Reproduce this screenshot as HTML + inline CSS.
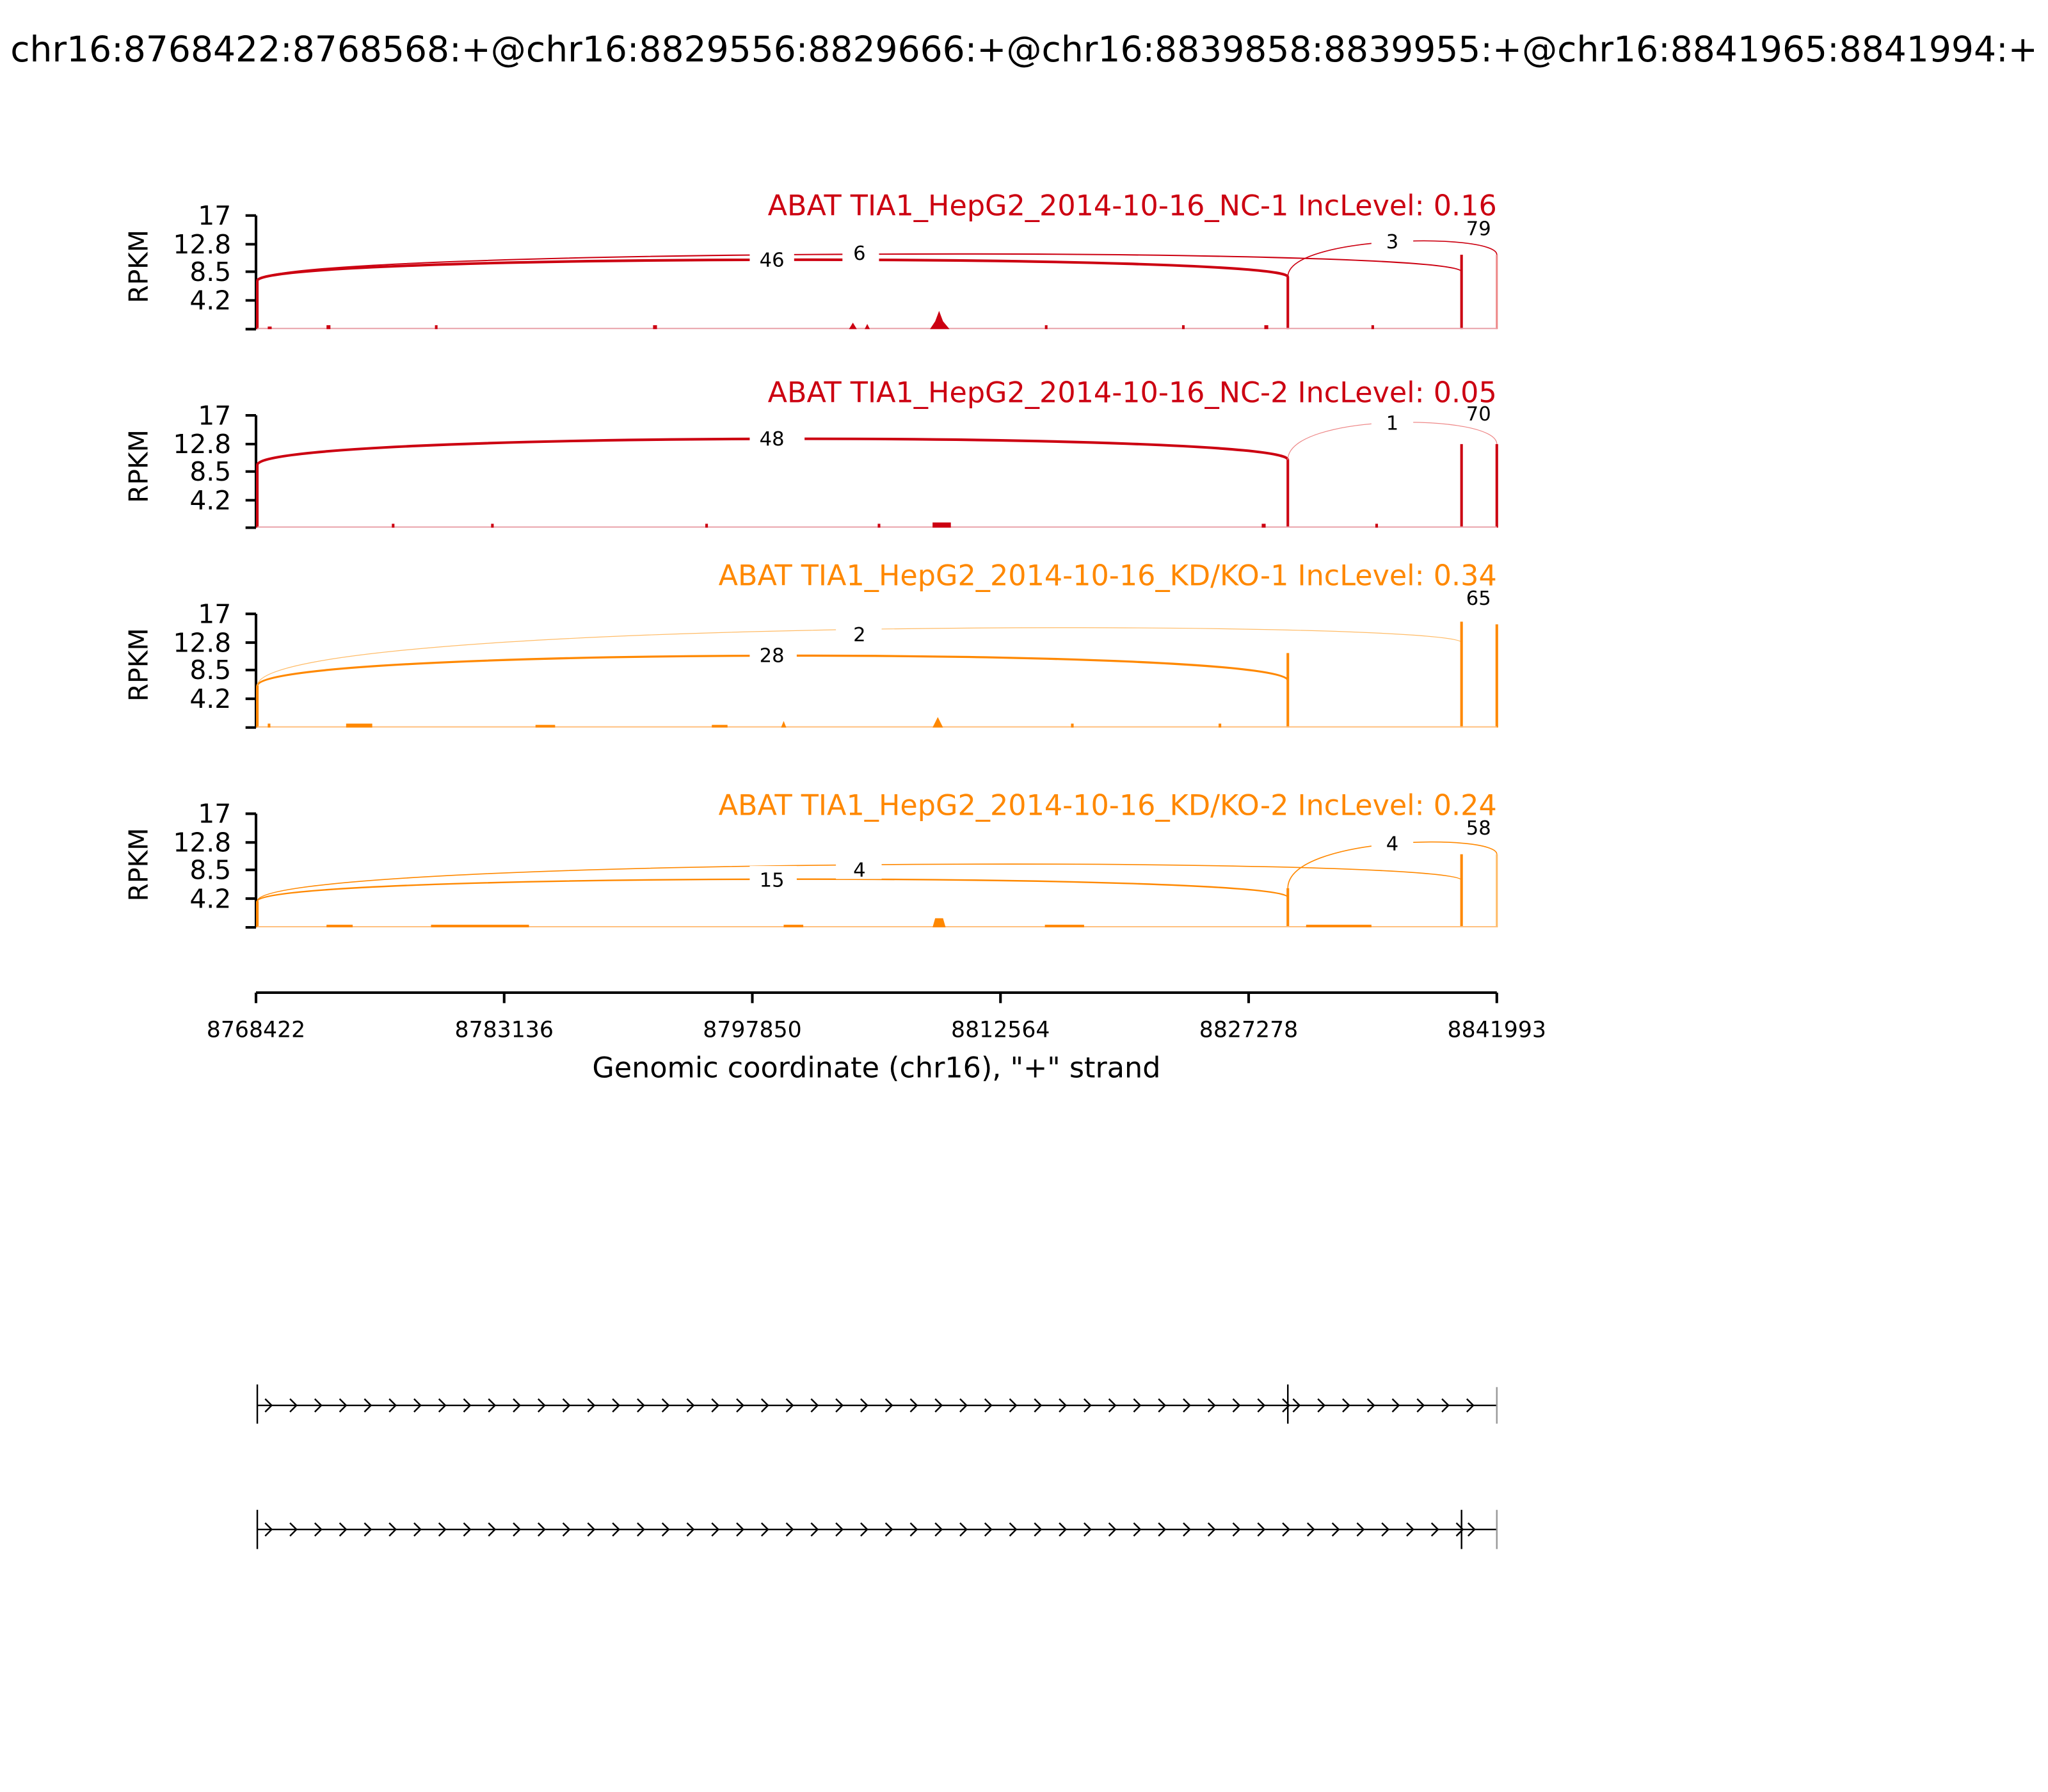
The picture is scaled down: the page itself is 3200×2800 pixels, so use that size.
<!DOCTYPE html>
<html><head><style>html,body{margin:0;padding:0;background:#fff}svg{display:block}</style></head>
<body>
<svg width="3200" height="2800" viewBox="0 0 1568 1372" xmlns="http://www.w3.org/2000/svg" font-family="DejaVu Sans, Liberation Sans, sans-serif">
<rect width="1568" height="1372" fill="#fff"/>
<text x="784" y="47" font-size="27" text-anchor="middle">chr16:8768422:8768568:+@chr16:8829556:8829666:+@chr16:8839858:8839955:+@chr16:8841965:8841994:+</text>

<g font-size="20" text-anchor="end">
<g stroke="#000" stroke-width="2" fill="none">
<path d="M196,165V252M188,165H196M188,187H196M188,208H196M188,230H196M188,252H196"/>
<path d="M196,318V404M188,318H196M188,340H196M188,361H196M188,383H196M188,404H196"/>
<path d="M196,470V557M188,470H196M188,492H196M188,513H196M188,535H196M188,557H196"/>
<path d="M196,623V710M188,623H196M188,645H196M188,666H196M188,688H196M188,710H196"/>
</g>
<text x="177" y="172">17</text><text x="177" y="194">12.8</text><text x="177" y="215">8.5</text><text x="177" y="237">4.2</text>
<text x="177" y="325">17</text><text x="177" y="347">12.8</text><text x="177" y="368">8.5</text><text x="177" y="390">4.2</text>
<text x="177" y="477">17</text><text x="177" y="499">12.8</text><text x="177" y="520">8.5</text><text x="177" y="542">4.2</text>
<text x="177" y="630">17</text><text x="177" y="652">12.8</text><text x="177" y="673">8.5</text><text x="177" y="695">4.2</text>
</g>
<g font-size="20" text-anchor="middle">
<text transform="translate(113,204) rotate(-90)">RPKM</text>
<text transform="translate(113,357) rotate(-90)">RPKM</text>
<text transform="translate(113,509) rotate(-90)">RPKM</text>
<text transform="translate(113,662) rotate(-90)">RPKM</text>
</g>

<g font-size="21.8" text-anchor="end">
<text x="1146" y="165" fill="#cc0011">ABAT TIA1_HepG2_2014-10-16_NC-1 IncLevel: 0.16</text>
<text x="1146" y="308" fill="#cc0011">ABAT TIA1_HepG2_2014-10-16_NC-2 IncLevel: 0.05</text>
<text x="1146" y="448" fill="#ff8800">ABAT TIA1_HepG2_2014-10-16_KD/KO-1 IncLevel: 0.34</text>
<text x="1146" y="624" fill="#ff8800">ABAT TIA1_HepG2_2014-10-16_KD/KO-2 IncLevel: 0.24</text>
</g>

<!-- Panel 1 -->
<g stroke="#cc0011" fill="none">
<path d="M197,215 C197,194 986,194 986,212" stroke-width="2"/>
<path d="M197,215 C197,190 1119,188 1119,208" stroke-width="1"/>
<path d="M986,212 C986,180 1146,178 1146,195" stroke-width="0.8"/>
<path d="M197,252V215M986,252V212M1119,252V195" stroke-width="2"/>
<path d="M1146,252V195" stroke-width="1.5" stroke="#e88"/>
<path d="M197,251.5H1146" stroke-width="1" stroke="#e8a0a8"/>
</g>
<path d="M712,252 L716,246 L719,238 L722,246 L727,252Z M205,252h3v-2h-3z M250,252h3v-3h-3z M333,252h2v-3h-2z M500,252h3v-3h-3z M650,252l3,-5l3,5z M662,252l2,-4l2,4z M800,252h2v-3h-2z M905,252h2v-3h-2z M968,252h3v-3h-3z M1050,252h2v-3h-2z" fill="#cc0011"/>
<!-- Panel 2 -->
<g stroke="#cc0011" fill="none">
<path d="M197,356 C197,330 986,330 986,352" stroke-width="2"/>
<path d="M986,352 C986,316 1146,316 1146,340" stroke-width="0.6" stroke="#e88"/>
<path d="M197,404V356M986,404V352M1119,404V340" stroke-width="2"/>
<path d="M1146,404V340" stroke-width="2"/>
<path d="M197,403.5H1146" stroke-width="1" stroke="#e8a0a8"/>
</g>
<path d="M714,404h14v-4h-14z M540,404h2v-3h-2z M300,404h2v-3h-2z M376,404h2v-3h-2z M966,404h3v-3h-3z M1053,404h2v-3h-2z M672,404h2v-3h-2z" fill="#cc0011"/>
<!-- Panel 3 -->
<g stroke="#ff8800" fill="none">
<path d="M197,525 C197,495 986,495 986,521" stroke-width="1.6"/>
<path d="M197,525 C197,472 1119,474 1119,492" stroke-width="0.6" stroke="#ffbb66"/>
<path d="M197,557V525M986,557V500M1119,557V476" stroke-width="2"/>
<path d="M1146,557V478" stroke-width="2"/>
<path d="M197,556.5H1146" stroke-width="1" stroke="#ffc080"/>
</g>
<path d="M714,557l4,-8l4,8z M598,557l2,-5l2,5z M205,557h2v-3h-2z M265,557h20v-3h-20z M410,557h15v-2h-15z M545,557h12v-2h-12z M820,557h2v-3h-2z M933,557h2v-3h-2z" fill="#ff8800"/>
<!-- Panel 4 -->
<g stroke="#ff8800" fill="none">
<path d="M197,690 C197,668 986,668 986,687" stroke-width="1.2"/>
<path d="M197,690 C197,656 1119,655 1119,674" stroke-width="0.8"/>
<path d="M986,680 C986,640 1146,638 1146,654" stroke-width="0.8"/>
<path d="M197,710V690M986,710V680M1119,710V654" stroke-width="2"/>
<path d="M1146,710V654" stroke-width="1.5" stroke="#ffbb66"/>
<path d="M197,709.5H1146" stroke-width="1" stroke="#ffc080"/>
</g>
<path d="M714,710l2,-7l6,0l2,7z M330,710h75v-2h-75z M250,710h20v-2h-20z M1000,710h50v-2h-50z M600,710h15v-2h-15z M800,710h30v-2h-30z" fill="#ff8800"/>

<g font-size="15" text-anchor="middle">
<rect x="574" y="188" width="34" height="18" fill="#fff"/><text x="591" y="204">46</text>
<rect x="645" y="183" width="28" height="18" fill="#fff"/><text x="658" y="199">6</text>
<rect x="1050" y="173" width="32" height="18" fill="#fff"/><text x="1066" y="190">3</text>
<text x="1132" y="180">79</text>
<rect x="574" y="325" width="42" height="18" fill="#fff"/><text x="591" y="341">48</text>
<rect x="1050" y="313" width="32" height="18" fill="#fff"/><text x="1066" y="329">1</text>
<text x="1132" y="322">70</text>
<rect x="574" y="490" width="36" height="18" fill="#fff"/><text x="591" y="507">28</text>
<rect x="640" y="474" width="35" height="18" fill="#fff"/><text x="658" y="491">2</text>
<text x="1132" y="463">65</text>
<rect x="574" y="663" width="36" height="18" fill="#fff"/><text x="591" y="679">15</text>
<rect x="640" y="655" width="35" height="18" fill="#fff"/><text x="658" y="671">4</text>
<rect x="1050" y="634" width="32" height="18" fill="#fff"/><text x="1066" y="651">4</text>
<text x="1132" y="639">58</text>
</g>

<g stroke="#000" stroke-width="2"><path d="M196,760H1146M196,760v8M386,760v8M576,760v8M766,760v8M956,760v8M1146,760v8"/></g>
<g font-size="17" text-anchor="middle">
<text x="196" y="794">8768422</text><text x="386" y="794">8783136</text><text x="576" y="794">8797850</text>
<text x="766" y="794">8812564</text><text x="956" y="794">8827278</text><text x="1146" y="794">8841993</text>
<text x="671" y="825" font-size="21.8">Genomic coordinate (chr16), "+" strand</text>
</g>

<g stroke="#000" stroke-width="1.2" fill="none">
<path d="M197,1076H1146M197,1060V1090M986,1060V1090"/>
<path d="M1146,1062V1090" stroke="#999"/>
<path d="M197,1171H1146M197,1156V1186M1119,1156V1186"/>
<path d="M1146,1156V1186" stroke="#999"/>
<path d="M203,1071l5,5l-5,5M222,1071l5,5l-5,5M241,1071l5,5l-5,5M260,1071l5,5l-5,5M279,1071l5,5l-5,5M298,1071l5,5l-5,5M317,1071l5,5l-5,5M336,1071l5,5l-5,5M355,1071l5,5l-5,5M374,1071l5,5l-5,5M393,1071l5,5l-5,5M412,1071l5,5l-5,5M431,1071l5,5l-5,5M450,1071l5,5l-5,5M469,1071l5,5l-5,5M488,1071l5,5l-5,5M507,1071l5,5l-5,5M526,1071l5,5l-5,5M545,1071l5,5l-5,5M564,1071l5,5l-5,5M583,1071l5,5l-5,5M602,1071l5,5l-5,5M621,1071l5,5l-5,5M640,1071l5,5l-5,5M659,1071l5,5l-5,5M678,1071l5,5l-5,5M697,1071l5,5l-5,5M716,1071l5,5l-5,5M735,1071l5,5l-5,5M754,1071l5,5l-5,5M773,1071l5,5l-5,5M792,1071l5,5l-5,5M811,1071l5,5l-5,5M830,1071l5,5l-5,5M849,1071l5,5l-5,5M868,1071l5,5l-5,5M887,1071l5,5l-5,5M906,1071l5,5l-5,5M925,1071l5,5l-5,5M944,1071l5,5l-5,5M963,1071l5,5l-5,5M982,1071l5,5l-5,5M990,1071l5,5l-5,5M1009,1071l5,5l-5,5M1028,1071l5,5l-5,5M1047,1071l5,5l-5,5M1066,1071l5,5l-5,5M1085,1071l5,5l-5,5M1104,1071l5,5l-5,5M1123,1071l5,5l-5,5"/>
<path d="M203,1166l5,5l-5,5M222,1166l5,5l-5,5M241,1166l5,5l-5,5M260,1166l5,5l-5,5M279,1166l5,5l-5,5M298,1166l5,5l-5,5M317,1166l5,5l-5,5M336,1166l5,5l-5,5M355,1166l5,5l-5,5M374,1166l5,5l-5,5M393,1166l5,5l-5,5M412,1166l5,5l-5,5M431,1166l5,5l-5,5M450,1166l5,5l-5,5M469,1166l5,5l-5,5M488,1166l5,5l-5,5M507,1166l5,5l-5,5M526,1166l5,5l-5,5M545,1166l5,5l-5,5M564,1166l5,5l-5,5M583,1166l5,5l-5,5M602,1166l5,5l-5,5M621,1166l5,5l-5,5M640,1166l5,5l-5,5M659,1166l5,5l-5,5M678,1166l5,5l-5,5M697,1166l5,5l-5,5M716,1166l5,5l-5,5M735,1166l5,5l-5,5M754,1166l5,5l-5,5M773,1166l5,5l-5,5M792,1166l5,5l-5,5M811,1166l5,5l-5,5M830,1166l5,5l-5,5M849,1166l5,5l-5,5M868,1166l5,5l-5,5M887,1166l5,5l-5,5M906,1166l5,5l-5,5M925,1166l5,5l-5,5M944,1166l5,5l-5,5M963,1166l5,5l-5,5M982,1166l5,5l-5,5M1001,1166l5,5l-5,5M1020,1166l5,5l-5,5M1039,1166l5,5l-5,5M1058,1166l5,5l-5,5M1077,1166l5,5l-5,5M1096,1166l5,5l-5,5M1115,1166l5,5l-5,5M1124,1166l5,5l-5,5"/>
</g>
</svg>
</body></html>
